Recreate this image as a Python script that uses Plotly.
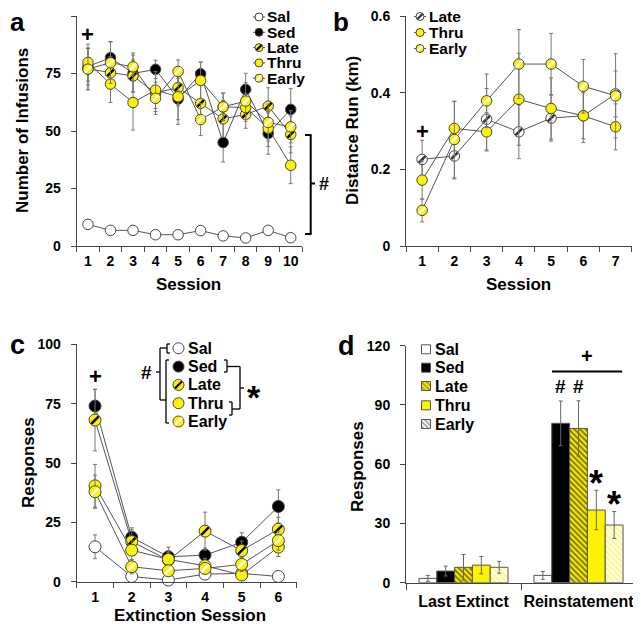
import plotly.graph_objects as go

W, H = 641, 624
OFF = 8  # the page body margin shifts the drawn figure by this many pixels
FONT = "Liberation Sans, Arial, sans-serif"
YEL = "#fff200"

def px(x):
    return (x - OFF) / W

def py(y):
    return 1 - (y - OFF) / H

# ---------------- data ----------------
groups = ["Sal", "Sed", "Late", "Thru", "Early"]

sessions_a = [1, 2, 3, 4, 5, 6, 7, 8, 9, 10]
a_sal = [9.4, 6.8, 6.8, 4.9, 4.9, 6.7, 4.4, 3.5, 6.8, 3.6]
a_sed = [78, 81.9, 75, 76.8, 63.9, 74.9, 45, 68.1, 48.9, 59.4]
a_late = [77, 75.3, 73.9, 66.5, 68.9, 62, 55.3, 57.2, 60.8, 48.5]
a_thru = [79.8, 70.4, 62.4, 67.8, 64.9, 72, 60.5, 60.2, 51.2, 35.1]
a_early = [76.9, 79.7, 77.9, 64.2, 75.9, 55, 60.5, 63, 53.7, 51.8]
a_sal_err = [1.5, 1, 1, 1, 1, 1, 1, 1, 1, 1]
a_sed_err = [8, 7, 8, 4, 9, 5, 8.5, 7, 9, 9]
a_late_err = [9, 7, 7, 8, 8, 8, 8, 6, 8, 8]
a_thru_err = [8, 8, 12, 8, 12, 8, 6, 6, 8, 8]
a_early_err = [9, 9, 6, 7, 5, 7, 6, 8, 8, 7]

sessions_b = [1, 2, 3, 4, 5, 6, 7]
b_late = [0.226, 0.235, 0.331, 0.298, 0.334, 0.340, 0.397]
b_thru = [0.172, 0.307, 0.298, 0.383, 0.359, 0.340, 0.311]
b_early = [0.093, 0.278, 0.379, 0.475, 0.475, 0.417, 0.392]
b_late_err = [0.05, 0.06, 0.08, 0.07, 0.06, 0.07, 0.06]
b_thru_err = [0.05, 0.07, 0.05, 0.12, 0.08, 0.06, 0.06]
b_early_err = [0.03, 0.10, 0.07, 0.09, 0.08, 0.07, 0.11]
b_ticks = [0, 0.2, 0.4, 0.6]
b_ticklabels = ["0", "0.2", "0.4", "0.6"]

sessions_c = [1, 2, 3, 4, 5, 6]
c_sal = [14.7, 2.2, 0.7, 3.2, 3.5, 2.2]
c_sed = [74, 18.7, 10.5, 11.2, 16.6, 31.7]
c_late = [68.1, 16.9, 9.1, 21.3, 13.1, 22.1]
c_thru = [40.4, 13.3, 9.4, 6.7, 2.8, 14.6]
c_early = [37.9, 6.3, 4.6, 5.6, 7.3, 17.3]
c_sal_err = [5, 1, 1, 1, 1, 1]
c_sed_err = [7, 4, 4, 3, 4, 7]
c_late_err = [13, 5, 4, 8, 4, 5]
c_thru_err = [9, 4, 3, 3, 2, 4]
c_early_err = [7, 3, 2, 2, 3, 4]

d_phases = ["Last Extinct", "Reinstatement"]
d_sal = [2.2, 3.7]
d_sed = [5.9, 80.7]
d_late = [7.8, 78.1]
d_thru = [8.9, 36.8]
d_early = [7.8, 29.2]
d_sal_err = [1.5, 2]
d_sed_err = [2.5, 11.3]
d_late_err = [6.5, 14]
d_thru_err = [4.4, 10]
d_early_err = [3, 6.8]

# ---------------- styles ----------------
MSTY = {
    "Sal": ("white", None),
    "Sed": ("black", None),
    "Late": (YEL, "black"),
    "Thru": (YEL, None),
    "Early": (YEL, "white"),
}

fig = go.Figure()


def add_series(x, y, err, xa, ya, fill, stripe, size):
    fig.add_trace(go.Scatter(
        x=x, y=y, mode="lines+markers", xaxis=xa, yaxis=ya,
        line=dict(color="#555", width=1),
        marker=dict(size=size, color=fill, line=dict(color="#444", width=1)),
        error_y=dict(type="data", array=err, color="#777", thickness=1, width=2),
        showlegend=False, cliponaxis=False))
    if stripe:
        fig.add_trace(go.Scatter(
            x=x, y=y, mode="markers", xaxis=xa, yaxis=ya,
            marker=dict(symbol="line-ne", size=size * 0.62,
                        line=dict(color=stripe, width=2.5)),
            showlegend=False, cliponaxis=False, hoverinfo="skip"))


# panel a
for g, ys, es in zip(groups, [a_sal, a_sed, a_late, a_thru, a_early],
                     [a_sal_err, a_sed_err, a_late_err, a_thru_err, a_early_err]):
    f, s = MSTY[g]
    add_series(sessions_a, ys, es, "x", "y", f, s, 10.5)

# panel b
b_sty = {"Late": ("white", "#333"), "Thru": (YEL, None), "Early": (YEL, "white")}
for g, ys, es in zip(["Late", "Thru", "Early"], [b_late, b_thru, b_early],
                     [b_late_err, b_thru_err, b_early_err]):
    f, s = b_sty[g]
    add_series(sessions_b, ys, es, "x2", "y2", f, s, 10.5)

# panel c
for g, ys, es in zip(groups, [c_sal, c_sed, c_late, c_thru, c_early],
                     [c_sal_err, c_sed_err, c_late_err, c_thru_err, c_early_err]):
    f, s = MSTY[g]
    add_series(sessions_c, ys, es, "x3", "y3", f, s, 12)

# panel d bars
BSTY = {
    "Sal": dict(color="white"),
    "Sed": dict(color="black"),
    "Late": dict(color=YEL, pattern=dict(shape="\\", fgcolor="black", size=4, solidity=0.5)),
    "Thru": dict(color=YEL),
    "Early": dict(color="white", pattern=dict(shape="\\", fgcolor=YEL, size=4, solidity=0.5)),
}
for g, ys, es in zip(groups, [d_sal, d_sed, d_late, d_thru, d_early],
                     [d_sal_err, d_sed_err, d_late_err, d_thru_err, d_early_err]):
    fig.add_trace(go.Bar(
        x=d_phases, y=ys, xaxis="x4", yaxis="y4", name=g,
        marker=dict(line=dict(color="#555", width=1), **BSTY[g]),
        error_y=dict(type="data", array=es, color="#666", thickness=1, width=2),
        showlegend=False))

# ---------------- manual legends (overlay pixel axis) ----------------
LX, LY = "x5", "y5"
ann = []


def txt(x, y, t, size=16, xanchor="left", yanchor="middle", angle=0):
    ann.append(dict(x=px(x), y=py(y), xref="paper", yref="paper", text=t,
                    showarrow=False, xanchor=xanchor, yanchor=yanchor,
                    textangle=angle,
                    font=dict(family=FONT, size=size, color="black", weight="bold")))


def leg_marker(x, y, fill, stripe, size, with_line):
    if with_line:
        fig.add_trace(go.Scatter(x=[x - 6, x + 6], y=[y, y], mode="lines",
                                 xaxis=LX, yaxis=LY, line=dict(color="#555", width=1),
                                 showlegend=False, hoverinfo="skip"))
    fig.add_trace(go.Scatter(x=[x], y=[y], mode="markers", xaxis=LX, yaxis=LY,
                             marker=dict(size=size, color=fill, line=dict(color="#444", width=1)),
                             showlegend=False, hoverinfo="skip"))
    if stripe:
        fig.add_trace(go.Scatter(x=[x], y=[y], mode="markers", xaxis=LX, yaxis=LY,
                                 marker=dict(symbol="line-ne", size=size * 0.62,
                                             line=dict(color=stripe, width=2.2)),
                                 showlegend=False, hoverinfo="skip"))


# legend a
for i, g in enumerate(groups):
    y = 17 + i * 15.3
    f, s = MSTY[g]
    leg_marker(259, y, f, s, 8, True)
    txt(265, y, g, size=15.5)

# legend b
for i, g in enumerate(["Late", "Thru", "Early"]):
    y = 16.5 + i * 16
    f, s = b_sty[g]
    leg_marker(420, y, f, s, 8, True)
    txt(427, y, g, size=15.5)

# legend c
for i, g in enumerate(groups):
    y = 348.3 + i * 18.3
    f, s = MSTY[g]
    leg_marker(178.5, y, f, s, 11, False)
    txt(186, y, g)

# legend d swatches
sw_y = [349.3, 367.7, 386.0, 405.3, 424.0]
fig.add_trace(go.Bar(
    x=[426] * 5, y=[9] * 5, base=[v - 4.5 for v in sw_y], width=[9] * 5,
    xaxis=LX, yaxis=LY, showlegend=False, hoverinfo="skip",
    marker=dict(color=["white", "black", YEL, YEL, "white"],
                line=dict(color="#555", width=1),
                pattern=dict(shape=["", "", "\\", "", "\\"],
                             fgcolor=["black", "black", "black", "black", YEL],
                             size=3.5, solidity=0.5))))
for g, y in zip(groups, sw_y):
    txt(433, y, g)

# ---------------- shapes: brackets ----------------
shapes = []


def seg(x0, y0, x1, y1, w=2):
    shapes.append(dict(type="line", xref="paper", yref="paper",
                       x0=px(x0), y0=py(y0), x1=px(x1), y1=py(y1),
                       line=dict(color="black", width=w)))


# panel a bracket
seg(310.7, 135, 310.7, 234)
seg(305, 135, 311.5, 135)
seg(305, 234, 311.5, 234)
seg(310.7, 183.5, 315, 183.5)
txt(317, 184, "#", size=18)

# panel c brackets (left)
seg(160, 348, 160, 400, 1.3)
seg(156, 372, 160, 372, 1.3)
seg(160, 348, 167, 348, 1.3)
seg(167, 344, 167, 353, 1.3)
seg(167, 344, 170, 344, 1.3)
seg(167, 353, 170, 353, 1.3)
seg(160, 400, 166, 400, 1.3)
seg(166, 360, 166, 423, 1.3)
seg(166, 360, 169, 360, 1.3)
seg(166, 423, 169, 423, 1.3)
txt(146.5, 372, "#", size=19, xanchor="center")
# panel c brackets (right)
seg(227, 360, 227, 372, 1.3)
seg(224, 360, 227, 360, 1.3)
seg(224, 372, 227, 372, 1.3)
seg(227, 366.5, 240, 366.5, 1.3)
seg(232, 402, 232, 415, 1.3)
seg(229, 402, 232, 402, 1.3)
seg(229, 415, 232, 415, 1.3)
seg(232, 409, 240, 409, 1.3)
seg(240, 366.5, 240, 409, 1.3)
seg(240, 388, 244, 388, 1.3)
txt(254, 397, "*", size=34, xanchor="center")

# panel d significance line
shapes.append(dict(type="line", xref="x4", yref="y4", x0=0.77, x1=1.38,
                   y0=107, y1=107, line=dict(color="black", width=2)))

# panel d symbols computed from data
for xi, sym, v, e in [(0.844, "#", d_sed[1], d_sed_err[1]),
                      (1.0, "#", d_late[1], d_late_err[1])]:
    ann.append(dict(x=xi, y=v + e + 1, xref="x4", yref="y4", text=sym,
                    showarrow=False, yanchor="bottom",
                    font=dict(family=FONT, size=19, color="black", weight="bold")))
for xi, v, e in [(1.156, d_thru[1], d_thru_err[1]), (1.312, d_early[1], d_early_err[1])]:
    ann.append(dict(x=xi, y=v + e - 8, xref="x4", yref="y4", text="*",
                    showarrow=False, yanchor="bottom",
                    font=dict(family=FONT, size=36, color="black", weight="bold")))
ann.append(dict(x=1.07, y=108, xref="x4", yref="y4", text="+", showarrow=False,
                yanchor="bottom",
                font=dict(family=FONT, size=20, color="black", weight="bold")))

# plus signs in a, b, c
ann.append(dict(x=1, y=92, xref="x", yref="y", text="+", showarrow=False,
                font=dict(family=FONT, size=22, color="black", weight="bold")))
ann.append(dict(x=1, y=0.298, xref="x2", yref="y2", text="+", showarrow=False,
                font=dict(family=FONT, size=22, color="black", weight="bold")))
ann.append(dict(x=1, y=86.4, xref="x3", yref="y3", text="+", showarrow=False,
                font=dict(family=FONT, size=22, color="black", weight="bold")))

# panel letters
txt(8, 22, "a", size=26)
txt(331, 22, "b", size=26)
txt(8, 345, "c", size=27)
txt(336, 346, "d", size=27)

# axis titles
txt(23, 131, "Number of Infusions", size=17, xanchor="center", angle=-90)
txt(188, 284, "Session", size=17, xanchor="center")
txt(353, 131, "Distance Run (km)", size=17, xanchor="center", angle=-90)
txt(519, 284, "Session", size=17, xanchor="center")
txt(28, 463, "Responses", size=17, xanchor="center", angle=-90)
txt(190, 615, "Extinction Session", size=17, xanchor="center")
txt(357, 467, "Responses", size=17, xanchor="center", angle=-90)

# ---------------- axes ----------------
tfont = dict(family=FONT, size=14, color="black", weight="bold")


def xlin(dom, n, anchor):
    return dict(domain=dom, anchor=anchor, range=[0.5, n + 0.5], showline=True,
                linecolor="#444", linewidth=1, showgrid=False, zeroline=False,
                tickmode="array", tickvals=list(range(1, n + 1)), ticks="",
                tickfont=tfont, ticklabelstandoff=2, automargin=False,
                minor=dict(ticks="outside", tickmode="array",
                           tickvals=[k + 0.5 for k in range(0, n + 1)],
                           ticklen=5, tickcolor="#444"))


def ylin(dom, rng, dt, anchor):
    return dict(domain=dom, anchor=anchor, range=rng, showline=True, linecolor="#444",
                linewidth=1, showgrid=False, zeroline=False, ticks="outside", ticklen=5,
                tickcolor="#444", dtick=dt, tick0=0, tickfont=tfont,
                ticklabelstandoff=7, automargin=False)


ya_dom = [py(246), py(16)]
yc_dom = [py(581.7), py(344.3)]
yd_dom = [py(582.7), py(345.7)]

yaxis2 = ylin(ya_dom, [0, 0.6004], 0.2, "x2")
yaxis2.update(tickmode="array", tickvals=b_ticks, ticktext=b_ticklabels)

fig.update_layout(
    width=W, height=H, margin=dict(l=0, r=0, t=0, b=0, autoexpand=False),
    paper_bgcolor="white", plot_bgcolor="rgba(0,0,0,0)",
    barmode="group", bargap=0.225, bargroupgap=0,
    xaxis=xlin([px(76.7), px(302)], 10, "y"),
    yaxis=ylin(ya_dom, [0, 100], 25, "x"),
    xaxis2=xlin([px(406), px(631.7)], 7, "y2"),
    yaxis2=yaxis2,
    xaxis3=xlin([px(76.7), px(296.7)], 6, "y3"),
    yaxis3=ylin(yc_dom, [0, 100], 25, "x3"),
    xaxis4=dict(domain=[px(406), px(636)], anchor="y4", type="category",
                showline=True, linecolor="#444", showgrid=False, ticks="outside",
                tickson="boundaries", ticklen=6, tickcolor="#444", tickangle=0,
                tickfont=dict(family=FONT, size=16, color="black", weight="bold"),
                ticklabelstandoff=4, automargin=False),
    yaxis4=ylin(yd_dom, [0, 120], 30, "x4"),
    xaxis5=dict(domain=[0, 1], anchor="y5", range=[OFF, W + OFF], visible=False,
                fixedrange=True, automargin=False),
    yaxis5=dict(domain=[0, 1], anchor="x5", range=[H + OFF, OFF], visible=False,
                fixedrange=True, automargin=False),
    shapes=shapes, annotations=ann,
)

fig.write_html("out.html")
